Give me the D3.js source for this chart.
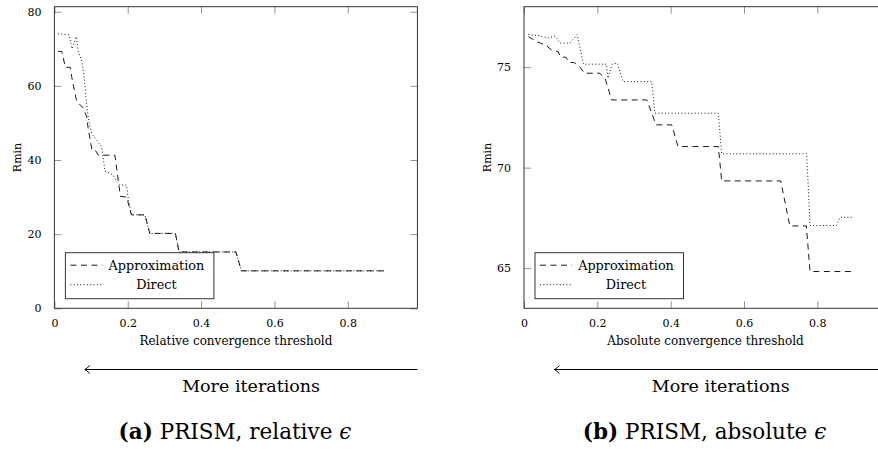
<!DOCTYPE html>
<html>
<head>
<meta charset="utf-8">
<script src="https://cdn.jsdelivr.net/npm/d3@7"></script>
<style>
  body { margin: 0; background: #fff; }
  text { font-family: "DejaVu Serif", serif; fill: #000; }
</style>
</head>
<body>
<div id="chart"></div>
<script>
// ---- data ----
var xTicks = [0, 0.2, 0.4, 0.6, 0.8];

// (a) relative threshold
var relApproxX = [0.01, 0.02, 0.03, 0.043, 0.047, 0.056, 0.061, 0.079, 0.088, 0.092, 0.102, 0.11, 0.12, 0.165,
                  0.18, 0.197, 0.21, 0.247, 0.26, 0.33, 0.34, 0.495, 0.51, 0.9];
var relApproxY = [69.3, 69.3, 65.0, 65.0, 62.5, 58.0, 55.8, 54.0, 51.7, 48.6, 42.9, 42.9, 41.3, 41.3,
                  30.2, 30.0, 25.2, 25.2, 20.2, 20.2, 15.2, 15.2, 10.1, 10.1];
var relDirectX = [0.01, 0.04, 0.048, 0.06, 0.065, 0.074, 0.079, 0.083, 0.086, 0.09, 0.095, 0.102, 0.115, 0.129,
                  0.138, 0.16, 0.17, 0.179, 0.197, 0.2, 0.21, 0.247, 0.26, 0.33, 0.34, 0.495, 0.51, 0.9];
var relDirectY = [74.0, 73.8, 70.0, 73.3, 69.3, 67.0, 63.9, 60.7, 57.1, 53.1, 49.9, 47.0, 45.4, 43.5,
                  37.0, 36.0, 34.2, 33.3, 33.2, 30.5, 25.2, 25.2, 20.2, 20.2, 15.2, 15.2, 10.1, 10.1];
var relYTicks = [0, 20, 40, 60, 80];

// (b) absolute threshold
var absApproxX = [0.012, 0.035, 0.045, 0.062, 0.075, 0.093, 0.1, 0.114, 0.124, 0.137, 0.155, 0.164, 0.207,
                  0.222, 0.239, 0.335, 0.36, 0.403, 0.42, 0.53, 0.539, 0.70, 0.725, 0.77, 0.78, 0.898];
var absApproxY = [76.52, 76.27, 76.2, 76.06, 75.86, 75.78, 75.5, 75.5, 75.23, 75.23, 74.95, 74.7, 74.7,
                  74.4, 73.37, 73.37, 72.13, 72.13, 71.05, 71.05, 69.34, 69.34, 67.1, 67.1, 64.83, 64.83];
var absDirectX = [0.012, 0.044, 0.065, 0.085, 0.098, 0.125, 0.145, 0.162, 0.225, 0.229, 0.24, 0.255, 0.27,
                  0.348, 0.357, 0.53, 0.539, 0.771, 0.78, 0.852, 0.862, 0.898];
var absDirectY = [76.62, 76.56, 76.45, 76.55, 76.2, 76.2, 76.62, 75.15, 75.15, 74.45, 75.15, 75.2, 74.28,
                  74.28, 72.71, 72.71, 70.69, 70.69, 67.12, 67.12, 67.53, 67.53];
var absYTicks = [65, 70, 75];

var seriesNames = ["Approximation", "Direct"];

// ---- layout ----
var width = 878, height = 449;
var axTop = 6.7, axBottom = 308.3;
var xUnit = 366.7;          // pixels per 1.0 on x
var xMax = 0.99;
var tickLen = 7;
var dashStyle = ["6,4.5", "1,2.3"];

var svg = d3.select("#chart").append("svg")
    .attr("width", width)
    .attr("height", height);

svg.append("rect")
    .attr("width", width)
    .attr("height", height)
    .attr("fill", "white");

var panels = [
  { left: 54.4, yDomain: [0, 81.35], yTicks: relYTicks,
    ax: relApproxX, ay: relApproxY, dx: relDirectX, dy: relDirectY,
    xLabel: "Relative convergence threshold", tag: "(a)", cap: " PRISM, relative " },
  { left: 524, yDomain: [63.0, 78.01], yTicks: absYTicks,
    ax: absApproxX, ay: absApproxY, dx: absDirectX, dy: absDirectY,
    xLabel: "Absolute convergence threshold", tag: "(b)", cap: " PRISM, absolute " }
];

panels.forEach(function(p) {
  var x = d3.scaleLinear().domain([0, xMax]).range([p.left, p.left + xMax * xUnit]);
  var y = d3.scaleLinear().domain(p.yDomain).range([axBottom, axTop]);
  var g = svg.append("g");

  // ticks pointing inward on all four sides
  var bottom = g.append("g")
      .attr("transform", "translate(0," + axBottom + ")")
      .call(d3.axisBottom(x).tickValues(xTicks).tickSizeInner(-tickLen).tickSizeOuter(0)
            .tickPadding(tickLen + 4).tickFormat(d3.format("")));
  var top = g.append("g")
      .attr("transform", "translate(0," + axTop + ")")
      .call(d3.axisTop(x).tickValues(xTicks).tickSizeInner(-tickLen).tickSizeOuter(0).tickFormat(""));
  var leftAx = g.append("g")
      .attr("transform", "translate(" + p.left + ",0)")
      .call(d3.axisLeft(y).tickValues(p.yTicks).tickSizeInner(-tickLen).tickSizeOuter(0)
            .tickPadding(tickLen + 6));
  var rightAx = g.append("g")
      .attr("transform", "translate(" + x(xMax) + ",0)")
      .call(d3.axisRight(y).tickValues(p.yTicks).tickSizeInner(-tickLen).tickSizeOuter(0).tickFormat(""));

  [bottom, top, leftAx, rightAx].forEach(function(a) {
    a.select(".domain").remove();
    a.selectAll(".tick line").attr("stroke", "#777").attr("stroke-width", 0.8);
    a.selectAll(".tick text")
        .attr("font-family", "DejaVu Serif")
        .attr("font-size", 11)
        .attr("fill", "#000");
  });

  // series
  var line = d3.line().x(function(d) { return x(d[0]); }).y(function(d) { return y(d[1]); });
  var sets = [d3.zip(p.ax, p.ay), d3.zip(p.dx, p.dy)];
  sets.forEach(function(pts, i) {
    g.append("path")
        .datum(pts)
        .attr("d", line)
        .attr("fill", "none")
        .attr("stroke", "#000")
        .attr("stroke-width", 0.9)
        .attr("stroke-dasharray", dashStyle[i]);
  });

  // frame
  g.append("rect")
      .attr("x", p.left)
      .attr("y", axTop)
      .attr("width", x(xMax) - p.left)
      .attr("height", axBottom - axTop)
      .attr("fill", "none")
      .attr("stroke", "#333")
      .attr("stroke-width", 1);

  // legend
  var lx = p.left + 11, ly = 252.7;
  var legend = g.append("g");
  legend.append("rect")
      .attr("x", lx).attr("y", ly)
      .attr("width", 148.5).attr("height", 46)
      .attr("fill", "white")
      .attr("stroke", "#333")
      .attr("stroke-width", 1);
  seriesNames.forEach(function(name, i) {
    var yy = ly + 12.5 + i * 19.5;
    legend.append("line")
        .attr("x1", lx + 5).attr("x2", lx + 37)
        .attr("y1", yy).attr("y2", yy)
        .attr("stroke", "#000")
        .attr("stroke-width", 0.9)
        .attr("stroke-dasharray", dashStyle[i]);
    legend.append("text")
        .attr("x", lx + 91).attr("y", yy + 4.5)
        .attr("text-anchor", "middle")
        .attr("font-size", 12.8)
        .text(name);
  });

  // axis labels
  g.append("text")
      .attr("x", (p.left + x(xMax)) / 2)
      .attr("y", 345)
      .attr("text-anchor", "middle")
      .attr("font-size", 12)
      .text(p.xLabel);
  g.append("text")
      .attr("transform", "translate(" + (p.left - 33) + "," + ((axTop + axBottom) / 2) + ") rotate(-90)")
      .attr("text-anchor", "middle")
      .attr("font-size", 11)
      .text("Rmin");

  // arrow: more iterations to the left
  var ay0 = 369.5, ax0 = x(0.083), ax1 = x(xMax);
  g.append("line")
      .attr("x1", ax0).attr("x2", ax1)
      .attr("y1", ay0).attr("y2", ay0)
      .attr("stroke", "#000").attr("stroke-width", 1);
  g.append("path")
      .attr("d", "M" + (ax0 + 5) + "," + (ay0 - 4) + " Q" + (ax0 + 1.5) + "," + (ay0 - 0.5) + " " + ax0 + "," + ay0 +
                 " Q" + (ax0 + 1.5) + "," + (ay0 + 0.5) + " " + (ax0 + 5) + "," + (ay0 + 4))
      .attr("fill", "none").attr("stroke", "#000").attr("stroke-width", 1);
  g.append("text")
      .attr("x", (ax0 + ax1) / 2)
      .attr("y", 392)
      .attr("text-anchor", "middle")
      .attr("font-size", 17.5)
      .text("More iterations");

  // caption
  var cap = g.append("text")
      .attr("x", (p.left + x(xMax)) / 2 - 1)
      .attr("y", 439)
      .attr("text-anchor", "middle")
      .attr("font-size", 21.5);
  cap.append("tspan").attr("font-weight", "bold").text(p.tag);
  cap.append("tspan").text(p.cap);
  cap.append("tspan").attr("font-style", "italic").text("ϵ");
});
</script>
</body>
</html>
